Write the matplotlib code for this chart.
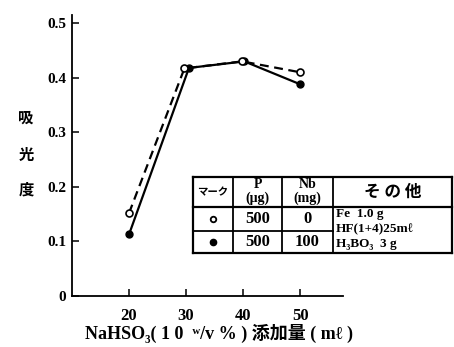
import matplotlib
matplotlib.use("Agg")
import matplotlib.pyplot as plt
from matplotlib.lines import Line2D

plt.rcParams['font.family'] = ['Liberation Serif', 'DejaVu Serif', 'Noto Sans CJK JP']

# Data
x_open = [20, 29.7, 39.8, 50]
y_open = [0.152, 0.417, 0.430, 0.410]
x_filled = [20, 30.5, 40.2, 50]
y_filled = [0.113, 0.418, 0.430, 0.388]
xticks = [20, 30, 40, 50]
yticks = [0, 0.1, 0.2, 0.3, 0.4, 0.5]
ytick_labels = ['0', '0.1', '0.2', '0.3', '0.4', '0.5']

W, H = 454, 347
fig = plt.figure(figsize=(W / 100, H / 100), dpi=100)
ax = fig.add_axes([72 / W, 1 - 296 / H, (343 - 72) / W, (296 - 15) / H])

ax.plot(x_filled, y_filled, '-', color='black', lw=1.6, marker='o', ms=5,
        mfc='black', mec='black', zorder=3)
ax.plot(x_open, y_open, '--', color='black', lw=1.6, dashes=(4, 2.5), marker='o', ms=5,
        mfc='white', mec='black', mew=1.2, zorder=4)

ax.set_xlim(10, 57.5)
ax.set_ylim(0, 0.515)
ax.spines['top'].set_visible(False)
ax.spines['right'].set_visible(False)
for s in ('left', 'bottom'):
    ax.spines[s].set_linewidth(1.3)
ax.set_xticks(xticks)
ax.set_xticklabels([str(v) for v in xticks], fontsize=12, fontweight='bold')
ax.set_yticks(yticks)
ax.set_yticklabels(ytick_labels, fontsize=11, fontweight='bold')
ax.tick_params(axis='both', direction='in', length=5, width=1.1)
ax.tick_params(axis='x', pad=9)
ax.tick_params(axis='y', pad=4)

# Axis labels
fig.text(219 / W, 1 - 333 / H,
         'NaHSO₃( 1 0  ʷ/v % ) 添加量 ( mℓ )',
         ha='center', va='center', fontsize=13, fontweight='bold')
for ch, yy in zip(['吸', '光', '度'], [118, 155, 190]):
    fig.text(26 / W, 1 - yy / H, ch, ha='center', va='center', fontsize=11,
             fontweight='bold', family=['Noto Sans CJK JP'])

# Table drawn in pixel coordinates
def px(x, y):
    return x / W, 1 - y / H

def line(x0, y0, x1, y1, lw=1.3):
    a, b = px(x0, y0)
    c, d = px(x1, y1)
    fig.add_artist(Line2D([a, c], [b, d], color='black', lw=lw, transform=fig.transFigure))

L, R, T, B = 193, 452, 177, 253
c1, c2, c3 = 233, 282, 333
r1, r2 = 207, 231
line(L, T, R, T, 1.6)
line(L, B, R, B, 1.6)
line(L, T, L, B, 1.6)
line(R, T, R, B, 1.6)
line(c1, T, c1, B)
line(c2, T, c2, B)
line(c3, T, c3, B)
line(L, r1, R, r1, 1.6)
line(L, r2, c3, r2)

def t(x, y, s, size=10, **kw):
    fig.text(*px(x, y), s, ha='center', va='center', fontsize=size, fontweight='bold', **kw)

t((L + c1) / 2, 192, 'マーク', size=7.5, family=['Noto Sans CJK JP'])
t((c1 + c2) / 2, 185, 'P', size=10)
t((c1 + c2) / 2, 198, '(μg)', size=10)
t((c2 + c3) / 2, 185, 'Nb', size=10)
t((c2 + c3) / 2, 198, '(mg)', size=10)
t((c3 + R) / 2, 192, 'そ の 他', size=12, family=['Noto Sans CJK JP'])

mx, my = px((L + c1) / 2, 219)
fig.add_artist(Line2D([mx], [my], marker='o', ms=4, mfc='white', mec='black', mew=1.3,
                      transform=fig.transFigure))
mx, my = px((L + c1) / 2, 242)
fig.add_artist(Line2D([mx], [my], marker='o', ms=4.5, mfc='black', mec='black',
                      transform=fig.transFigure))

t((c1 + c2) / 2, 219, '500', size=12)
t((c1 + c2) / 2, 242, '500', size=12)
t((c2 + c3) / 2, 219, '0', size=12)
t((c2 + c3) / 2, 242, '100', size=12)

fig.text(*px(336, 214), 'Fe  1.0 g', ha='left', va='center', fontsize=9.5, fontweight='bold')
fig.text(*px(336, 229), 'HF(1+4)25mℓ', ha='left', va='center', fontsize=9.5, fontweight='bold')
fig.text(*px(336, 244), 'H₃BO₃  3 g', ha='left', va='center',
         fontsize=9.5, fontweight='bold')

fig.savefig('out.png', dpi=100, facecolor='white')
